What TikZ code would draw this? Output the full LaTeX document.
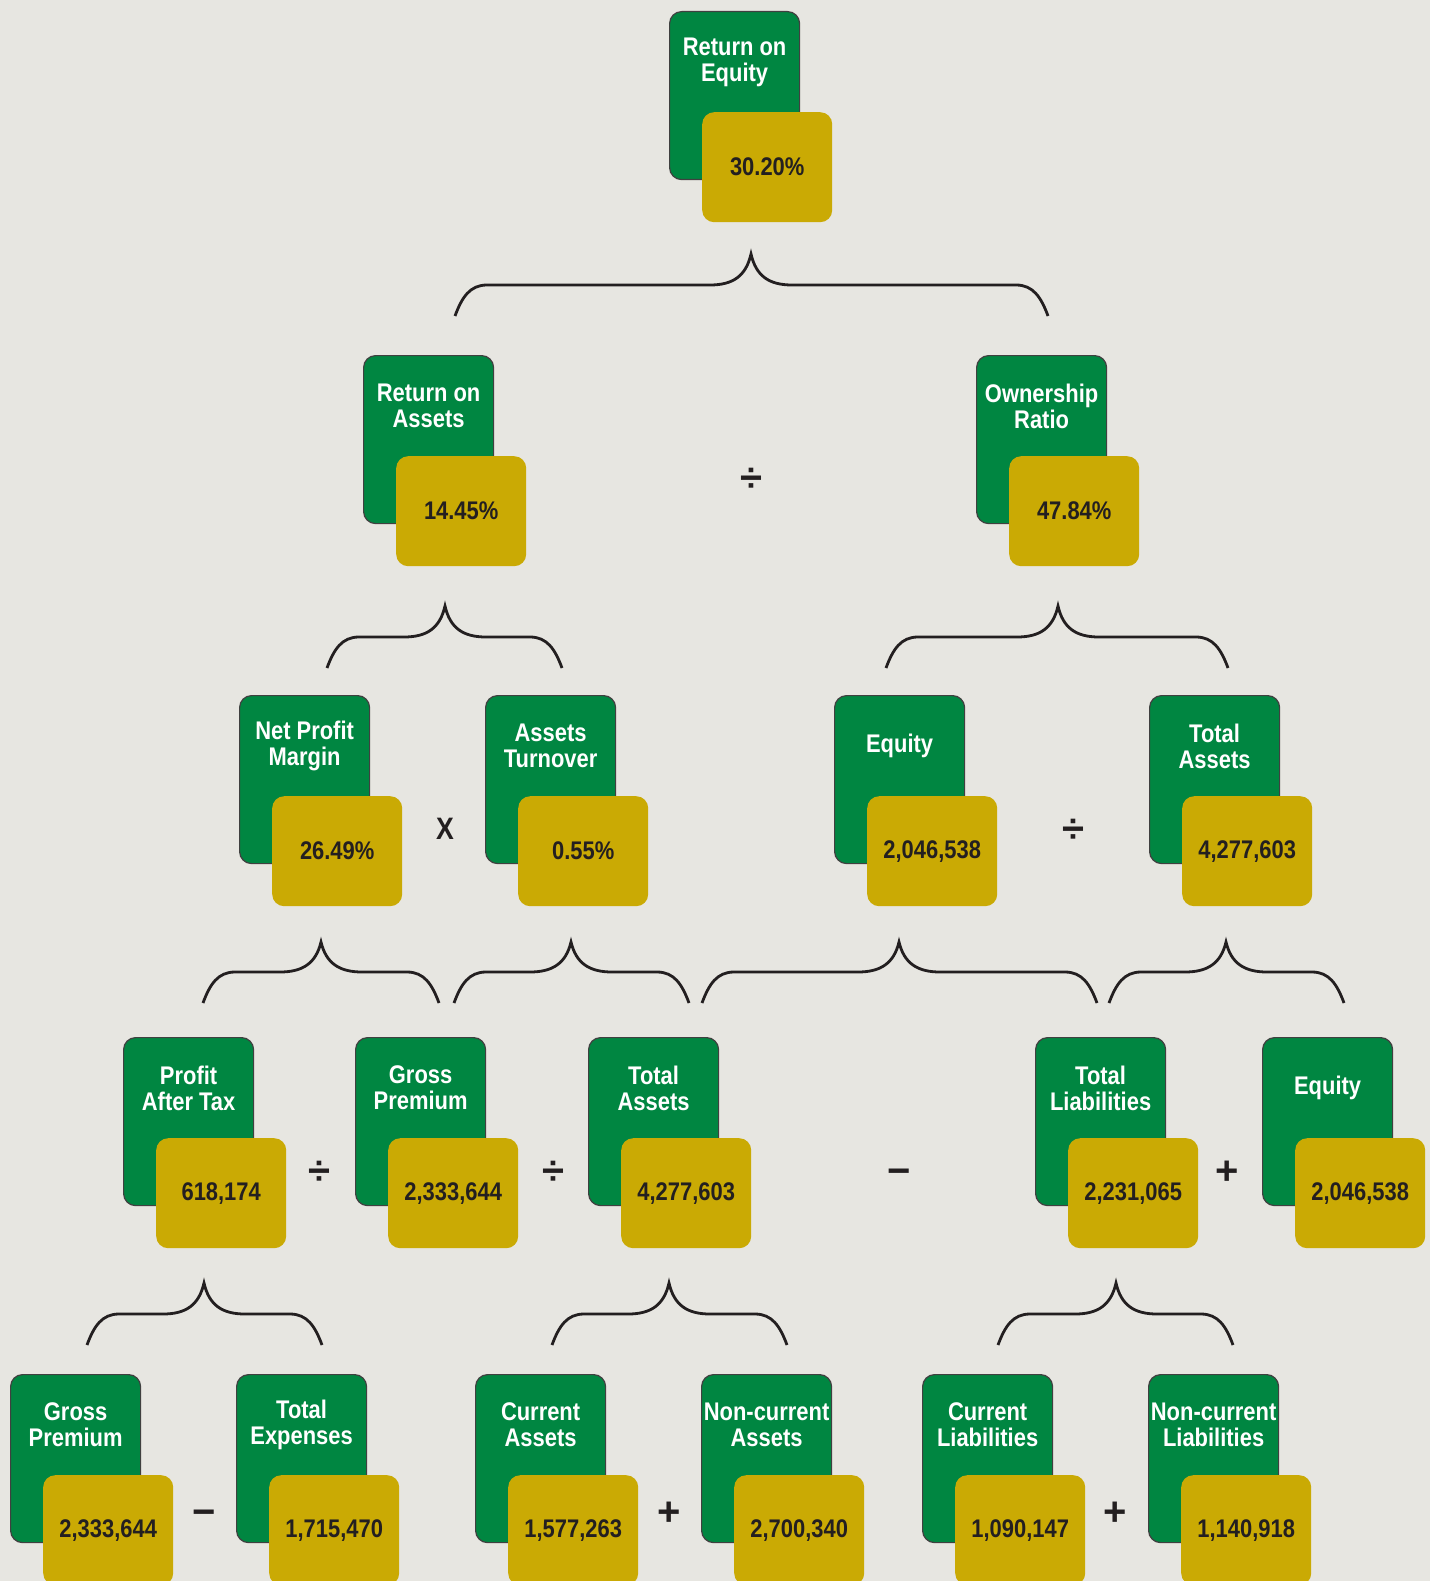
\documentclass[tikz,border=0pt]{standalone}
\usepackage{fontspec}
\newfontfamily\cond[FakeStretch=0.86]{Liberation Sans}
\newfontfamily\opf{Liberation Sans}
\usetikzlibrary{calc}
\definecolor{bg}{RGB}{231,230,225}
\definecolor{grn}{RGB}{0,134,65}
\definecolor{gld}{RGB}{202,170,4}
\definecolor{ink}{RGB}{35,31,32}
\tikzset{
  greenbox/.style={draw=black!75, line width=1.2pt, fill=grn, rounded corners=12pt,
    minimum width=130pt, minimum height=168pt, inner sep=0pt, anchor=north west},
  goldbox/.style={fill=gld, rounded corners=12pt, minimum width=130pt, minimum height=110pt,
    inner sep=0pt, anchor=north west, text=ink, font=\cond\bfseries\fontsize{25.5}{26}\selectfont},
  lbl/.style={text=white, font=\cond\bfseries\fontsize{25.5}{26}\selectfont, align=center, inner sep=0pt},
  opsym/.style={text=ink, font=\opf\bfseries\fontsize{40}{40}\selectfont, inner sep=0pt},
  opx/.style={text=ink, font=\cond\bfseries\fontsize{31}{31}\selectfont, inner sep=0pt},
  bracestyle/.style={draw=ink, line width=2.8pt}
}
\newcommand\metric[5]{%
  \node[greenbox] (#1) at (#2,#3) {};
  \node[lbl] (#1-t) at ($(#1.north)+(0,-51pt)$) {#4};
  \node[goldbox] (#1-v) at ($(#1.north west)+(33pt,-101pt)$) {#5};
}
% xl, xt, xr, ye, yt
\newcommand\brc[5]{%
  \draw[bracestyle] (#1,#4) .. controls ({#1+7},{#4-19}) and ({#1+15},{#4-31}) .. ({#1+32},{#4-31})
    -- ({#2-41},{#4-31}) .. controls ({#2-18},{#4-31}) and ({#2-5},{#4-40}) .. (#2,#5)
    .. controls ({#2+5},{#4-40}) and ({#2+18},{#4-31}) .. ({#2+41},{#4-31})
    -- ({#3-32},{#4-31}) .. controls ({#3-15},{#4-31}) and ({#3-7},{#4-19}) .. (#3,#4);
}
\begin{document}
\begin{tikzpicture}[x=1pt,y=-1pt]
\useasboundingbox (0,0) rectangle (1430,1581);
\fill[bg] (0,0) rectangle (1430,1581);
\begin{scope}
\clip (0,0) rectangle (1430,1581);
% row 1
\metric{roe}{669}{11}{Return on\\Equity}{30.20\%}
% row 2
\metric{roa}{363}{355}{Return on\\Assets}{14.45\%}
\metric{own}{976}{355}{Ownership\\Ratio}{47.84\%}
% row 3
\metric{npm}{239}{695}{Net Profit\\Margin}{26.49\%}
\metric{at}{485}{695}{Assets\\Turnover}{0.55\%}
\metric{eq}{834}{695}{Equity}{2,046,538}
\metric{ta}{1149}{695}{Total\\Assets}{4,277,603}
% row 4
\metric{pat}{123}{1037}{Profit\\After Tax}{618,174}
\metric{gp}{355}{1037}{Gross\\Premium}{2,333,644}
\metric{tab}{588}{1037}{Total\\Assets}{4,277,603}
\metric{tl}{1035}{1037}{Total\\Liabilities}{2,231,065}
\metric{eqb}{1262}{1037}{Equity}{2,046,538}
% row 5
\metric{gpb}{10}{1374}{Gross\\Premium}{2,333,644}
\metric{te}{236}{1374}{Total\\Expenses}{1,715,470}
\metric{ca}{475}{1374}{Current\\Assets}{1,577,263}
\metric{nca}{701}{1374}{Non-current\\Assets}{2,700,340}
\metric{cl}{922}{1374}{Current\\Liabilities}{1,090,147}
\metric{ncl}{1148}{1374}{Non-current\\Liabilities}{1,140,918}
\end{scope}
% braces
\brc{455}{751}{1048}{316}{254}
\brc{327}{445}{562}{668}{606}
\brc{886}{1058}{1228}{668}{606}
\brc{203}{321}{439}{1003}{942}
\brc{454}{571}{689}{1003}{942}
\brc{702}{899}{1097}{1003}{942}
\brc{1109}{1226}{1344}{1003}{942}
\brc{87}{204}{322}{1345}{1283}
\brc{552}{669}{787}{1345}{1283}
\brc{998}{1116}{1233}{1345}{1283}
% operators
\node[opsym] (op1) at (751,480) {÷};
\node[opx] (op2) at (445,829) {X};
\node[opsym] (op3) at (1073,831) {÷};
\node[opsym] (op4) at (319,1173) {÷};
\node[opsym] (op5) at (553,1173) {÷};
\node[opsym] (op6) at (899,1177) {−};
\node[opsym] (op7) at (1227,1173) {+};
\node[opsym] (op8) at (204,1518) {−};
\node[opsym] (op9) at (669,1514) {+};
\node[opsym] (op10) at (1115,1514) {+};
\end{tikzpicture}
\end{document}
